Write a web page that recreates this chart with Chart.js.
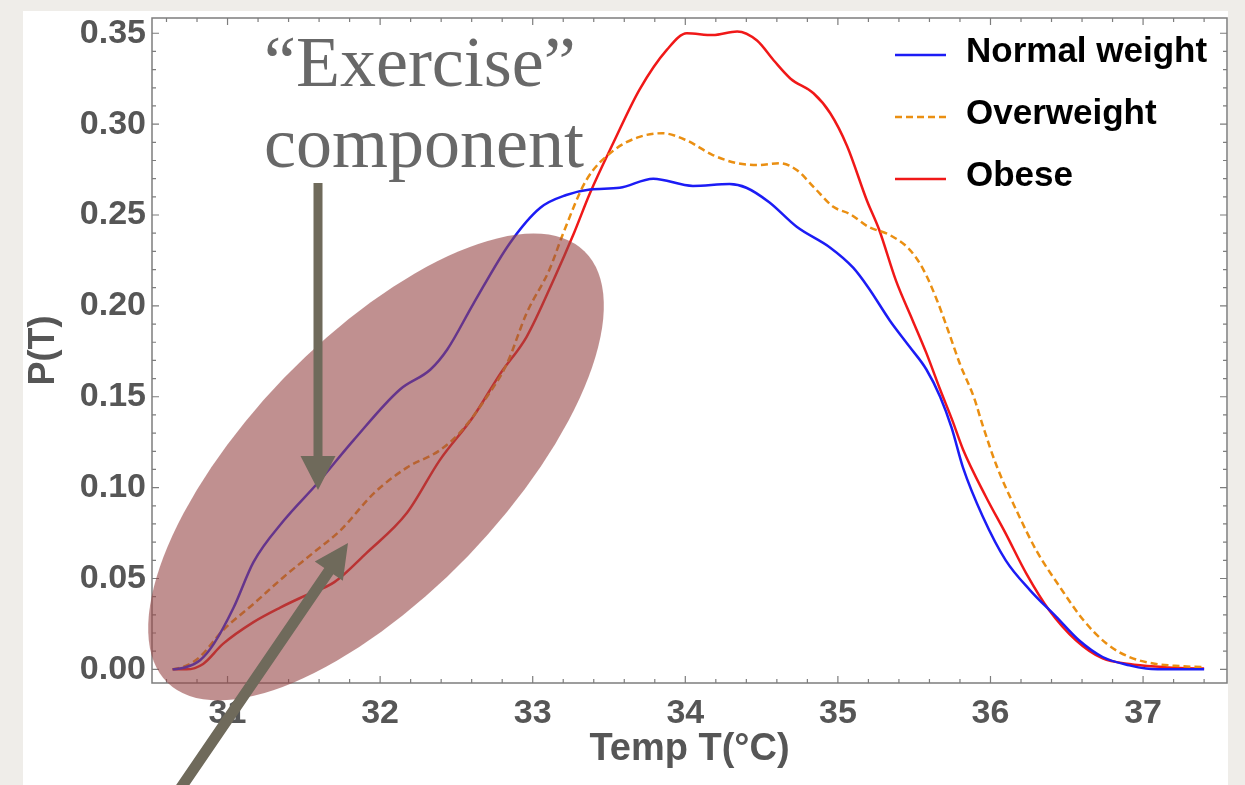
<!DOCTYPE html>
<html>
<head>
<meta charset="utf-8">
<script src="https://cdn.jsdelivr.net/npm/chart.js@4.4.0/dist/chart.umd.min.js"></script>
<style>
  html, body { margin: 0; padding: 0; background: #efede9; overflow: hidden; }
  canvas { display: block; }
</style>
</head>
<body>
<canvas id="tempChart" width="1245" height="785"></canvas>
<script>
// Temperature grid and P(T) values
const normalTemp = [30.64, 30.72, 30.82, 30.91, 31.04, 31.17, 31.37, 31.585, 31.825, 32.13, 32.33, 32.44, 32.61, 32.85, 33.05, 33.22, 33.375, 33.57, 33.79, 34.05, 34.29, 34.40, 34.55, 34.73, 34.95, 35.10, 35.20, 35.34, 35.47, 35.58, 35.67, 35.745, 35.82, 35.95, 36.10, 36.26, 36.43, 36.58, 36.735, 36.91, 37.02, 37.2, 37.4];
const normalP = [0, 0.001, 0.005, 0.014, 0.034, 0.059, 0.082, 0.102, 0.126, 0.154, 0.165, 0.176, 0.201, 0.2345, 0.254, 0.261, 0.264, 0.265, 0.270, 0.266, 0.267, 0.265, 0.257, 0.2435, 0.232, 0.221, 0.210, 0.192, 0.1775, 0.165, 0.150, 0.133, 0.111, 0.084, 0.060, 0.0435, 0.029, 0.016, 0.0068, 0.0022, 0.0005, 0, 0];

const overTemp = [30.64, 30.73, 30.82, 30.97, 31.17, 31.37, 31.56, 31.74, 31.96, 32.175, 32.39, 32.52, 32.70, 32.83, 32.96, 33.11, 33.20, 33.35, 33.53, 33.70, 33.85, 34.01, 34.18, 34.34, 34.47, 34.62, 34.73, 34.84, 34.97, 35.08, 35.20, 35.34, 35.47, 35.56, 35.65, 35.72, 35.80, 35.89, 35.95, 36.04, 36.17, 36.30, 36.455, 36.61, 36.76, 36.91, 37.085, 37.24, 37.4];
const overP = [0, 0.002, 0.007, 0.0215, 0.036, 0.051, 0.064, 0.0765, 0.097, 0.111, 0.1205, 0.130, 0.150, 0.168, 0.196, 0.220, 0.240, 0.269, 0.2855, 0.293, 0.295, 0.291, 0.283, 0.2785, 0.2775, 0.2785, 0.2748, 0.2655, 0.2545, 0.2505, 0.2435, 0.239, 0.231, 0.220, 0.203, 0.187, 0.168, 0.150, 0.134, 0.112, 0.0875, 0.0655, 0.0453, 0.027, 0.0142, 0.0068, 0.003, 0.0018, 0.0012];

const obeseTemp = [30.64, 30.73, 30.84, 30.97, 31.17, 31.345, 31.52, 31.70, 31.91, 32.175, 32.39, 32.61, 32.79, 32.96, 33.135, 33.27, 33.375, 33.53, 33.70, 33.88, 34.01, 34.18, 34.34, 34.47, 34.58, 34.69, 34.84, 34.95, 35.06, 35.19, 35.27, 35.38, 35.49, 35.58, 35.67, 35.75, 35.82, 35.97, 36.10, 36.235, 36.385, 36.56, 36.735, 36.91, 37.13, 37.24, 37.4];
const obeseP = [0, 0, 0.003, 0.014, 0.026, 0.034, 0.041, 0.048, 0.064, 0.086, 0.115, 0.139, 0.163, 0.183, 0.214, 0.240, 0.262, 0.290, 0.319, 0.341, 0.350, 0.349, 0.351, 0.346, 0.335, 0.325, 0.317, 0.306, 0.288, 0.258, 0.242, 0.214, 0.192, 0.174, 0.154, 0.137, 0.121, 0.095, 0.0747, 0.0527, 0.0325, 0.016, 0.006, 0.003, 0.0013, 0.0007, 0.0005];

const seriesNames = ['Normal weight', 'Overweight', 'Obese'];
const xTicks = [31, 32, 33, 34, 35, 36, 37];
const yTicks = [0, 0.05, 0.10, 0.15, 0.20, 0.25, 0.30, 0.35];

const toPoints = (xs, ys) => xs.map((t, i) => ({ x: t, y: ys[i] }));

// draw a filled arrow from (x1,y1) to tip (x2,y2)
function drawArrow(ctx, x1, y1, x2, y2, shaftW, headL, headW) {
    const ang = Math.atan2(y2 - y1, x2 - x1);
    const len = Math.hypot(x2 - x1, y2 - y1);
    ctx.save();
    ctx.translate(x1, y1);
    ctx.rotate(ang);
    ctx.beginPath();
    ctx.moveTo(0, -shaftW / 2);
    ctx.lineTo(len - headL, -shaftW / 2);
    ctx.lineTo(len - headL, -headW / 2);
    ctx.lineTo(len, 0);
    ctx.lineTo(len - headL, headW / 2);
    ctx.lineTo(len - headL, shaftW / 2);
    ctx.lineTo(0, shaftW / 2);
    ctx.closePath();
    ctx.fill();
    ctx.restore();
}

const decorPlugin = {
    id: 'decor',
    beforeDraw(chart) {
        const ctx = chart.ctx;
        ctx.save();
        ctx.fillStyle = '#ffffff';
        ctx.fillRect(23, 11, 1205, 774);
        ctx.restore();
    },
    beforeDatasetsDraw(chart) {
        // frame with inward minor/major ticks on all four sides
        const { ctx, chartArea: a, scales: { x, y } } = chart;
        ctx.save();
        ctx.strokeStyle = '#7d7d7d';
        ctx.lineWidth = 1.5;
        ctx.strokeRect(a.left, a.top, a.right - a.left, a.bottom - a.top);
        ctx.lineWidth = 1.2;
        ctx.beginPath();
        for (let k = 153; k <= 187; k++) {
            const px = x.getPixelForValue(k / 5);
            const len = k % 5 === 0 ? 7 : 4;
            ctx.moveTo(px, a.bottom); ctx.lineTo(px, a.bottom - len);
            ctx.moveTo(px, a.top); ctx.lineTo(px, a.top + len);
        }
        for (let k = 0; k <= 35; k++) {
            const py = y.getPixelForValue(k / 100);
            const len = k % 5 === 0 ? 7 : 4;
            ctx.moveTo(a.left, py); ctx.lineTo(a.left + len, py);
            ctx.moveTo(a.right, py); ctx.lineTo(a.right - len, py);
        }
        ctx.stroke();
        ctx.restore();
    },
    afterDraw(chart) {
        const ctx = chart.ctx;
        ctx.save();

        // highlighted region
        ctx.fillStyle = 'rgba(150, 70, 70, 0.6)';
        ctx.beginPath();
        ctx.ellipse(376, 467, 300, 128, -46 * Math.PI / 180, 0, Math.PI * 2);
        ctx.fill();

        // arrows
        ctx.fillStyle = '#6f6a5b';
        drawArrow(ctx, 318, 183, 318, 490, 9, 34, 35);
        drawArrow(ctx, 178, 792, 348, 543, 11, 34, 34);

        // annotation
        ctx.fillStyle = '#686868';
        ctx.font = '72px "Liberation Serif", serif';
        ctx.textAlign = 'left';
        ctx.textBaseline = 'alphabetic';
        ctx.fillText('\u201CExercise\u201D', 264, 86);
        ctx.fillText('component', 264, 167);

        // legend
        const rows = [55, 117, 179];
        ctx.font = 'bold 35px "Liberation Sans", Arial, sans-serif';
        chart.data.datasets.forEach((ds, i) => {
            ctx.strokeStyle = ds.borderColor;
            ctx.lineWidth = 2.5;
            ctx.setLineDash(ds.borderDash || []);
            ctx.beginPath();
            ctx.moveTo(895, rows[i]);
            ctx.lineTo(946, rows[i]);
            ctx.stroke();
            ctx.setLineDash([]);
            ctx.fillStyle = '#000000';
            ctx.fillText(ds.label, 966, rows[i] + 7);
        });
        ctx.restore();
    }
};

const tickFont = { family: '"Liberation Sans", Arial, sans-serif', size: 34, weight: 'bold' };

const ctx = document.getElementById('tempChart').getContext('2d');
const tempChart = new Chart(ctx, {
    type: 'line',
    data: {
        datasets: [
            {
                label: seriesNames[0],
                data: toPoints(normalTemp, normalP),
                borderColor: '#1c1cf5',
                borderWidth: 2.5
            },
            {
                label: seriesNames[1],
                data: toPoints(overTemp, overP),
                borderColor: '#ea8f12',
                borderWidth: 2.5,
                borderDash: [7, 4]
            },
            {
                label: seriesNames[2],
                data: toPoints(obeseTemp, obeseP),
                borderColor: '#f01818',
                borderWidth: 2.5
            }
        ]
    },
    options: {
        responsive: false,
        animation: false,
        devicePixelRatio: 1,
        layout: { padding: { top: 18, right: 18, bottom: 0, left: 0 } },
        elements: {
            point: { radius: 0 },
            line: { cubicInterpolationMode: 'monotone', fill: false }
        },
        plugins: {
            legend: { display: false },
            tooltip: { enabled: false }
        },
        scales: {
            x: {
                type: 'linear',
                min: 30.505,
                max: 37.55,
                grid: { display: false, drawTicks: false },
                border: { display: false },
                afterBuildTicks: (s) => { s.ticks = xTicks.map(v => ({ value: v })); },
                afterFit: (s) => { s.height = 102; s.paddingLeft = 0; s.paddingRight = 0; },
                ticks: {
                    autoSkip: false,
                    maxRotation: 0,
                    padding: 10,
                    color: '#565656',
                    font: tickFont,
                    callback: (v) => String(v)
                },
                title: {
                    display: true,
                    text: 'Temp T(°C)',
                    color: '#565656',
                    font: { family: '"Liberation Sans", Arial, sans-serif', size: 38, weight: 'bold' },
                    padding: { top: 0, bottom: 13 }
                }
            },
            y: {
                type: 'linear',
                min: -0.0075,
                max: 0.3584,
                grid: { display: false, drawTicks: false },
                border: { display: false },
                afterBuildTicks: (s) => { s.ticks = yTicks.map(v => ({ value: v })); },
                afterFit: (s) => { s.width = 152; s.paddingTop = 0; s.paddingBottom = 0; },
                ticks: {
                    autoSkip: false,
                    padding: 6,
                    color: '#565656',
                    font: tickFont,
                    callback: (v) => v.toFixed(2)
                },
                title: {
                    display: true,
                    text: 'P(T)',
                    color: '#565656',
                    font: { family: '"Liberation Sans", Arial, sans-serif', size: 36, weight: 'bold' },
                    padding: { top: 22, bottom: 0 }
                }
            }
        }
    },
    plugins: [decorPlugin]
});
</script>
</body>
</html>
